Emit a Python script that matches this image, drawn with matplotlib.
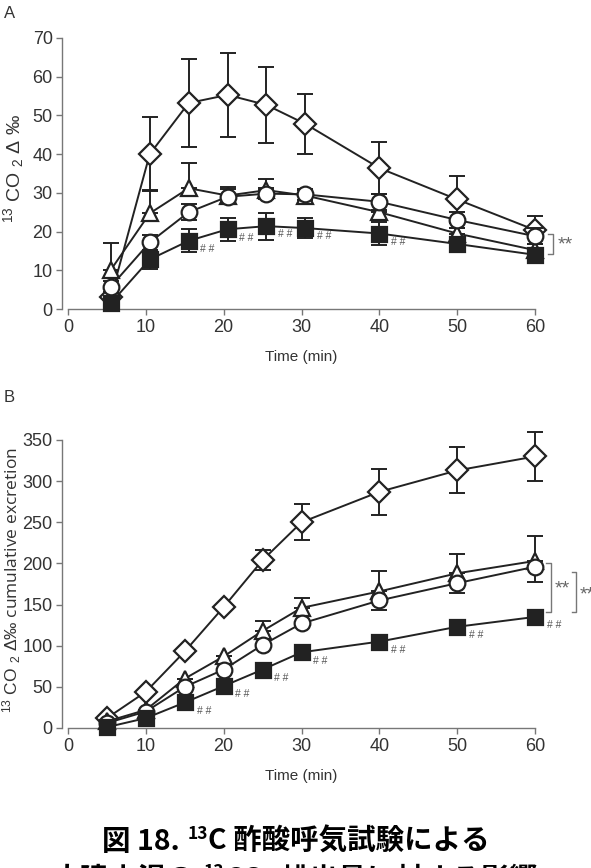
"""
13C acetate breath test: 13CO2 delta and cumulative excretion over time.
"""

import matplotlib
matplotlib.use('Agg')
import matplotlib.pyplot as plt

plt.rcParams['font.family'] = ['Liberation Sans', 'DejaVu Sans']
plt.rcParams['mathtext.fontset'] = 'custom'
plt.rcParams['mathtext.rm'] = 'Liberation Sans'
plt.rcParams['mathtext.it'] = 'Liberation Sans:italic'
plt.rcParams['mathtext.bf'] = 'Liberation Sans:bold'
plt.rcParams['mathtext.sf'] = 'Open Sans'
plt.rcParams['mathtext.default'] = 'regular'

W, H = 591, 868

# Panel A: 13CO2 delta per mil
time_a = [5.5, 10.5, 15.5, 20.5, 25.5, 30.5, 40, 50, 60]
diamond_a = [3, 40, 53.2, 55.3, 52.7, 47.8, 36.4, 28.3, 20.4]
diamond_a_err = [0, 9.5, 11.3, 10.8, 9.8, 7.7, 6.8, 6.1, 3.5]
triangle_a = [10.1, 24.7, 31.2, 29.3, 30.7, 29.3, 25, 19.5, 15.2]
triangle_a_err = [7, 6, 6.5, 2.3, 2.8, 1.5, 2, 1.5, 1.5]
circle_a = [5.8, 17.2, 25, 29, 29.8, 29.6, 27.7, 23, 18.8]
circle_a_err = [1.5, 2, 2, 2, 1.5, 1.5, 2, 2, 2]
square_a = [1.5, 12.8, 17.6, 20.6, 21.4, 20.9, 19.5, 16.8, 14]
square_a_err = [1, 2.5, 3, 3, 3.5, 2.5, 3, 1, 1]
hash_a = [15.5, 20.5, 25.5, 30.5, 40]

# Panel B: cumulative excretion
time_b = [5, 10, 15, 20, 25, 30, 40, 50, 60]
diamond_b = [12, 44, 93, 147, 204, 250, 287, 313, 330]
diamond_b_err = [0, 0, 0, 0, 12, 22, 28, 28, 30]
triangle_b = [8, 22, 60, 87, 118, 146, 166, 188, 203]
triangle_b_err = [0, 0, 0, 0, 12, 12, 25, 23, 30]
circle_b = [6, 20, 50, 71, 101, 127, 155, 176, 196]
circle_b_err = [0, 0, 0, 0, 0, 0, 12, 12, 18]
square_b = [1, 12, 31, 51, 71, 92, 105, 123, 135]
hash_b = [15, 20, 25, 30, 40, 50, 60]

GRAY = '#777777'
TXT = '#333333'


def px_box(left, top, right, bottom):
    return [left / W, 1 - bottom / H, (right - left) / W, (bottom - top) / H]


def style_axes(ax, ymax, ystep):
    ax.set_xlim(0, 60)
    ax.set_ylim(0, ymax)
    ax.set_xticks(range(0, 61, 10))
    ax.set_yticks(range(0, ymax + 1, ystep))
    for side in ['top', 'right']:
        ax.spines[side].set_visible(False)
    for side in ['left', 'bottom']:
        ax.spines[side].set_color(GRAY)
        ax.spines[side].set_linewidth(1.0)
    ax.spines['left'].set_position(('outward', 4))
    ax.tick_params(direction='out', length=4, width=1.0, color=GRAY,
                   labelcolor=TXT, labelsize=13, pad=3)
    ax.set_xlabel('Time (min)', fontsize=11, color=TXT, labelpad=10)


def series(ax, x, y, lo, hi, marker, ms, face, z):
    ax.errorbar(x, y, yerr=[lo, hi], fmt='-', color='#222222', lw=1.4,
                elinewidth=1.4, capsize=6, capthick=1.4, zorder=z,
                clip_on=False)
    ax.plot(x, y, linestyle='none', marker=marker, ms=ms, mfc=face,
            mec='#222222', mew=1.6, zorder=z + 0.5, clip_on=False)


def hashes(ax, x, y):
    for xi, yi in zip(x, y):
        ax.annotate('# #', (xi, yi), xytext=(8.5, -6), textcoords='offset points',
                    fontsize=7.5, color='#555555', ha='left', va='center',
                    annotation_clip=False)


def bracket(ax, x, y0, y1, tick=0.6):
    ax.plot([x - tick, x, x, x - tick], [y0, y0, y1, y1], color=GRAY, lw=1.0,
            clip_on=False)


fig = plt.figure(figsize=(W / 100, H / 100), dpi=100)

# ---- Panel A ----
axa = fig.add_axes(px_box(68, 38, 535, 309))
style_axes(axa, 70, 10)
zeros = [0] * len(time_a)
series(axa, time_a, diamond_a, diamond_a_err, diamond_a_err, 'D', 10.7, 'white', 3)
series(axa, time_a, triangle_a, zeros, triangle_a_err, '^', 11, 'white', 4)
series(axa, time_a, circle_a, circle_a_err, circle_a_err, 'o', 11.3, 'white', 5)
series(axa, time_a, square_a, square_a_err, square_a_err, 's', 10.8, '#222222', 6)
hashes(axa, hash_a, [square_a[time_a.index(t)] for t in hash_a])
bracket(axa, 62.3, 14.2, 19.4)
axa.text(62.9, 16.5, '**', fontsize=14, color='#666666', ha='left', va='center')

# ---- Panel B ----
axb = fig.add_axes(px_box(68, 440, 535, 728))
style_axes(axb, 350, 50)
zeros = [0] * len(time_b)
series(axb, time_b, diamond_b, diamond_b_err, diamond_b_err, 'D', 10.7, 'white', 3)
series(axb, time_b, triangle_b, zeros, triangle_b_err, '^', 11, 'white', 4)
series(axb, time_b, circle_b, circle_b_err, zeros, 'o', 11.3, 'white', 5)
series(axb, time_b, square_b, zeros, zeros, 's', 10.8, '#222222', 6)
hashes(axb, hash_b, [square_b[time_b.index(t)] for t in hash_b])
bracket(axb, 62.0, 141, 201)
axb.text(62.5, 169, '**', fontsize=14, color='#666666', ha='left', va='center')
bracket(axb, 65.3, 141, 190)
axb.text(65.8, 162, '**', fontsize=14, color='#666666', ha='left', va='center')

# panel letters and y labels
fig.text(4 / W, 1 - 14 / H, 'A', fontsize=12, color=TXT, va='center')
fig.text(4 / W, 1 - 397 / H, 'B', fontsize=12, color=TXT, va='center')
fig.text(14 / W, 1 - 169 / H, r'$^{13}$ CO $_{2}$ $\Delta$ ‰', rotation=90,
         fontsize=14, color=TXT, ha='center', va='center')
fig.text(12 / W, 1 - 580 / H,
         r'$^{13}$ CO $_{2}$ $\Delta$‰ $\mathsf{cumulative\ excretion}$',
         rotation=90, fontsize=12.5, color=TXT, ha='center', va='center')


# ---- caption (two lines, second cut off by the page edge) ----
def caption_line(pieces, base_px):
    renderer = fig.canvas.get_renderer()
    placed = []
    total = 0
    for s, size, dy, gap in pieces:
        t = fig.text(0, 0, s, fontsize=size, fontweight='bold', color='black',
                     family=['Noto Sans CJK JP', 'DejaVu Sans'],
                     ha='left', va='baseline')
        w = t.get_window_extent(renderer).width
        placed.append((t, w, dy, gap))
        total += w + gap
    x = (W - total) / 2
    for t, w, dy, gap in placed:
        t.set_position((x / W, 1 - (base_px - dy) / H))
        x += w + gap


caption_line([('図 18.', 20.5, 0, 8), ('13', 12.5, 11, 0),
              ('C 酢酸呼気試験による', 20.5, 0, 0)], 850)
caption_line([('大建中湯の', 20.5, 0, 8), ('13', 12.5, 11, 0), ('CO', 20.5, 0, 0),
              ('2', 12.5, -5, 6), ('排出量に対する影響', 20.5, 0, 0)], 888)

fig.savefig('out.png', dpi=100)
